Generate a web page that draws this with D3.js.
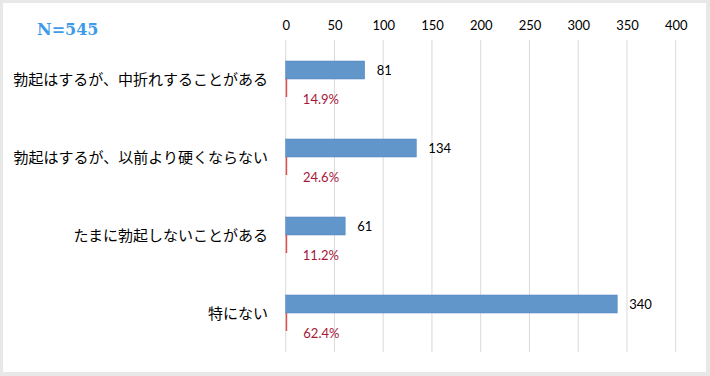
<!DOCTYPE html>
<html><head><meta charset="utf-8">
<script src="https://cdn.jsdelivr.net/npm/d3@7"></script>
<style>
html,body{margin:0;padding:0;background:#e8e8e8;}
svg{display:block;}
</style></head>
<body>
<svg id="chart" width="710" height="376"></svg>
<script>
const categories = ["勃起はするが、中折れすることがある","勃起はするが、以前より硬くならない","たまに勃起しないことがある","特にない"];
const counts = [81, 134, 61, 340];
const shares = [0.149, 0.246, 0.112, 0.624];
const shareLabels = ["14.9%","24.6%","11.2%","62.4%"];
const ticks = [0,50,100,150,200,250,300,350,400];
const sampleLabel = "N=545";

const svg = d3.select("#chart");
svg.append("rect").attr("x",3).attr("y",3).attr("width",703).attr("height",369).attr("fill","#ffffff");

const x = d3.scaleLinear().domain([0,400]).range([285.7,675.7]);
const y = d3.scaleBand().domain(categories).range([40,352]);
const sub = d3.scaleBand().domain(["count","share"]).range([y.bandwidth()/2-18, y.bandwidth()/2+18]);

// gridlines
svg.append("g").selectAll("line").data(ticks).join("line")
  .attr("x1",d=>x(d)).attr("x2",d=>x(d)).attr("y1",40).attr("y2",352)
  .attr("stroke","#d9d9d9").attr("stroke-width",1);

// top axis labels
const axis = d3.axisTop(x).tickValues(ticks).tickSize(0).tickPadding(0);
const ag = svg.append("g").attr("transform","translate(0,30)").call(axis);
ag.select(".domain").remove();
ag.selectAll("text").attr("font-family","Lato, 'Open Sans', sans-serif").attr("font-size",13).attr("fill","#000");

// category labels
const yAxis = d3.axisLeft(y).tickSize(0).tickPadding(0);
const yg = svg.append("g").attr("transform","translate(268,0)").call(yAxis);
yg.select(".domain").remove();
yg.selectAll("text").attr("font-family","'Noto Sans CJK JP', sans-serif").attr("font-size",15).attr("fill","#000").attr("dy","0.38em");

// count bars
svg.append("g").selectAll("rect").data(counts).join("rect")
  .attr("x",x(0)).attr("y",(d,i)=>y(categories[i])+sub("count"))
  .attr("width",d=>x(d)-x(0)).attr("height",sub.bandwidth())
  .attr("fill","#6096ca").attr("stroke","#4f81bd").attr("stroke-width",0.5);

// share bars
svg.append("g").selectAll("rect").data(shares).join("rect")
  .attr("x",x(0)).attr("y",(d,i)=>y(categories[i])+sub("share"))
  .attr("width",d=>Math.max(1.5,x(d)-x(0))).attr("height",sub.bandwidth())
  .attr("fill","#e0504d");

// count labels
svg.append("g").selectAll("text").data(counts).join("text")
  .attr("x",d=>x(d)+12).attr("y",(d,i)=>y(categories[i])+sub("count")+sub.bandwidth()/2)
  .attr("dy","0.35em").text(d=>d)
  .attr("font-family","Lato, 'Open Sans', sans-serif").attr("font-size",13).attr("fill","#000");

// share labels
svg.append("g").selectAll("text").data(shares).join("text")
  .attr("x",d=>x(d)+17).attr("y",(d,i)=>y(categories[i])+sub("share")+sub.bandwidth()/2+11)
  .attr("dy","0.35em").text((d,i)=>shareLabels[i])
  .attr("font-family","Lato, 'Open Sans', sans-serif").attr("font-size",13).attr("fill","#a8163a");

// N label
svg.append("text").attr("x",37).attr("y",35).text(sampleLabel)
  .attr("font-family","'DejaVu Serif', serif").attr("font-weight","bold")
  .attr("font-size",16).attr("fill","#3d9be9");
</script>
</body></html>
